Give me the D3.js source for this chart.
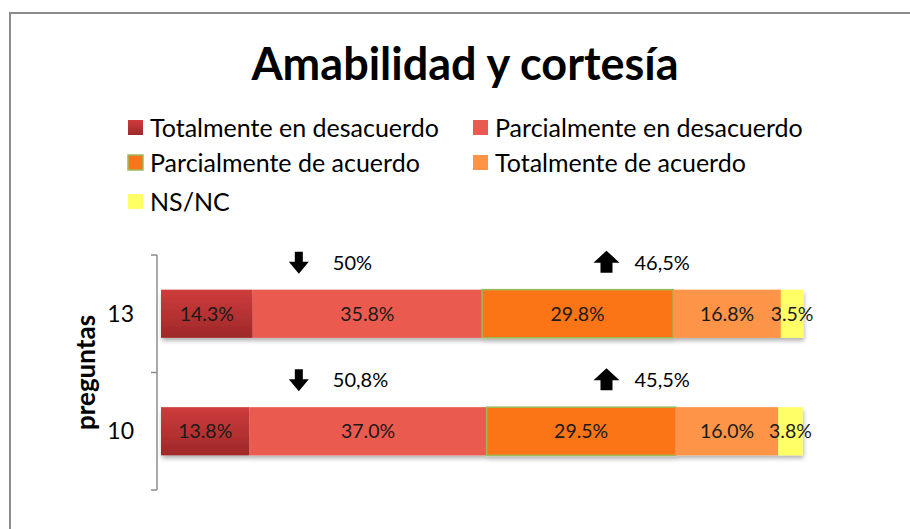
<!DOCTYPE html>
<html>
<head>
<meta charset="utf-8">
<script src="https://cdn.jsdelivr.net/npm/d3@7"></script>
<style>
  body { margin: 0; background: #fff; }
  svg { font-family: Lato, "Noto Sans", sans-serif; }
</style>
</head>
<body>
<div id="chart"></div>
<script>
var width = 910;
var height = 529;

// data
var preguntas = ["13", "10"];
var categorias = [
    "Totalmente en desacuerdo",
    "Parcialmente en desacuerdo",
    "Parcialmente de acuerdo",
    "Totalmente de acuerdo",
    "NS/NC"
];
var valores13 = [14.3, 35.8, 29.8, 16.8, 3.5];
var valores10 = [13.8, 37.0, 29.5, 16.0, 3.8];
var desacuerdoTxt = ["50%", "50,8%"];
var acuerdoTxt = ["46,5%", "45,5%"];

var colores = ["url(#gradRojo)", "#eb5a50", "#fb7419", "#fd9446", "#ffff66"];
var bordes = ["none", "none", "#9bbb59", "none", "none"];

var svg = d3.select("#chart").append("svg")
    .attr("width", width)
    .attr("height", height);

var defs = svg.append("defs");
var grad = defs.append("linearGradient")
    .attr("id", "gradRojo")
    .attr("x1", 0).attr("y1", 0).attr("x2", 0).attr("y2", 1);
grad.append("stop").attr("offset", "0%").attr("stop-color", "#cf3c3c");
grad.append("stop").attr("offset", "100%").attr("stop-color", "#9e2829");

var sombra = defs.append("filter").attr("id", "sombra")
    .attr("x", "-5%").attr("y", "-20%").attr("width", "110%").attr("height", "150%");
sombra.append("feDropShadow")
    .attr("dx", 1).attr("dy", 3).attr("stdDeviation", 2)
    .attr("flood-color", "#000").attr("flood-opacity", 0.3);

// marco del grafico
svg.append("rect")
    .attr("x", 10).attr("y", 13)
    .attr("width", 920).attr("height", 540)
    .attr("fill", "none")
    .attr("stroke", "#8c8c8c")
    .attr("stroke-width", 2);

// titulo
svg.append("text")
    .attr("x", 465)
    .attr("y", 80)
    .attr("text-anchor", "middle")
    .style("font-size", "45px")
    .style("font-weight", "bold")
    .text("Amabilidad y cortesía");

// leyenda
var legendCols = [128, 473];
var legendRows = [128, 163, 202];
var legend = svg.append("g").attr("class", "legend");
categorias.forEach(function(c, i) {
    var lx = legendCols[i % 2];
    var ly = legendRows[Math.floor(i / 2)];
    legend.append("rect")
        .attr("x", lx).attr("y", ly - 8)
        .attr("width", 15).attr("height", 15)
        .attr("fill", colores[i])
        .attr("stroke", bordes[i])
        .attr("stroke-width", 1.5);
    legend.append("text")
        .attr("x", lx + 22)
        .attr("y", ly)
        .attr("dy", "0.35em")
        .style("font-size", "25px")
        .text(c);
});

// escalas
var x = d3.scaleLinear()
    .domain([0, 100])
    .range([161, 802]);

var y = d3.scaleBand()
    .domain(preguntas)
    .range([255, 490])
    .paddingInner(0.59)
    .paddingOuter(0.295);

var filas = [valores13, valores10];

// eje y
var eje = svg.append("g").attr("stroke", "#8c8c8c").attr("stroke-width", 1.5);
eje.append("line")
    .attr("x1", 157).attr("x2", 157)
    .attr("y1", y.range()[0]).attr("y2", y.range()[1]);
var ticksY = [y.range()[0], y.range()[0] + y.step(), y.range()[1]];
eje.selectAll("line.tick")
    .data(ticksY)
    .enter().append("line")
    .attr("class", "tick")
    .attr("x1", 151).attr("x2", 157)
    .attr("y1", function(d) { return d; })
    .attr("y2", function(d) { return d; });

svg.selectAll("text.cat")
    .data(preguntas)
    .enter().append("text")
    .attr("class", "cat")
    .attr("x", 134)
    .attr("y", function(d) { return y(d) + y.bandwidth() / 2; })
    .attr("dy", "0.35em")
    .attr("text-anchor", "end")
    .style("font-size", "23px")
    .text(function(d) { return d; });

svg.append("text")
    .attr("transform", "translate(95," + ((y.range()[0] + y.range()[1]) / 2) + ") rotate(-90)")
    .attr("text-anchor", "middle")
    .style("font-size", "26px")
    .style("font-weight", "bold")
    .text("preguntas");

// barras
preguntas.forEach(function(p, r) {
    var vals = filas[r];
    var acum = 0;
    var segs = vals.map(function(v, i) {
        var s = { i: i, v: v, x0: acum, x1: acum + v };
        acum += v;
        return s;
    });
    var g = svg.append("g").attr("class", "fila");
    g.append("g").attr("filter", "url(#sombra)")
        .selectAll("rect")
        .data(segs)
        .enter().append("rect")
        .attr("x", function(d) { return x(d.x0); })
        .attr("y", y(p))
        .attr("width", function(d) { return x(d.x1) - x(d.x0); })
        .attr("height", y.bandwidth())
        .attr("fill", function(d) { return colores[d.i]; })
        .attr("stroke", function(d) { return bordes[d.i]; })
        .attr("stroke-width", 1.5);
    g.selectAll("text")
        .data(segs)
        .enter().append("text")
        .attr("x", function(d) { return (x(d.x0) + x(d.x1)) / 2; })
        .attr("y", y(p) + y.bandwidth() / 2)
        .attr("dy", "0.35em")
        .attr("text-anchor", "middle")
        .style("font-size", "19.5px")
        .attr("fill", "#1a1a1a")
        .text(function(d) { return d.v.toFixed(1) + "%"; });

    // flechas y totales
    var ay = y(p) - 27;
    var dx = x(21.5);
    var ux = x(69.5);
    svg.append("path")
        .attr("d", "M" + (dx - 4) + "," + (ay - 11) + "h8v10h6l-10,12l-10,-12h6z")
        .attr("fill", "#000");
    svg.append("text")
        .attr("x", dx + 34).attr("y", ay)
        .attr("dy", "0.35em")
        .style("font-size", "20px")
        .text(desacuerdoTxt[r]);
    svg.append("path")
        .attr("d", "M" + ux + "," + (ay - 12) + "l13,12h-7v10h-12v-10h-7z")
        .attr("fill", "#000");
    svg.append("text")
        .attr("x", ux + 28).attr("y", ay)
        .attr("dy", "0.35em")
        .style("font-size", "20px")
        .text(acuerdoTxt[r]);
});
</script>
</body>
</html>
